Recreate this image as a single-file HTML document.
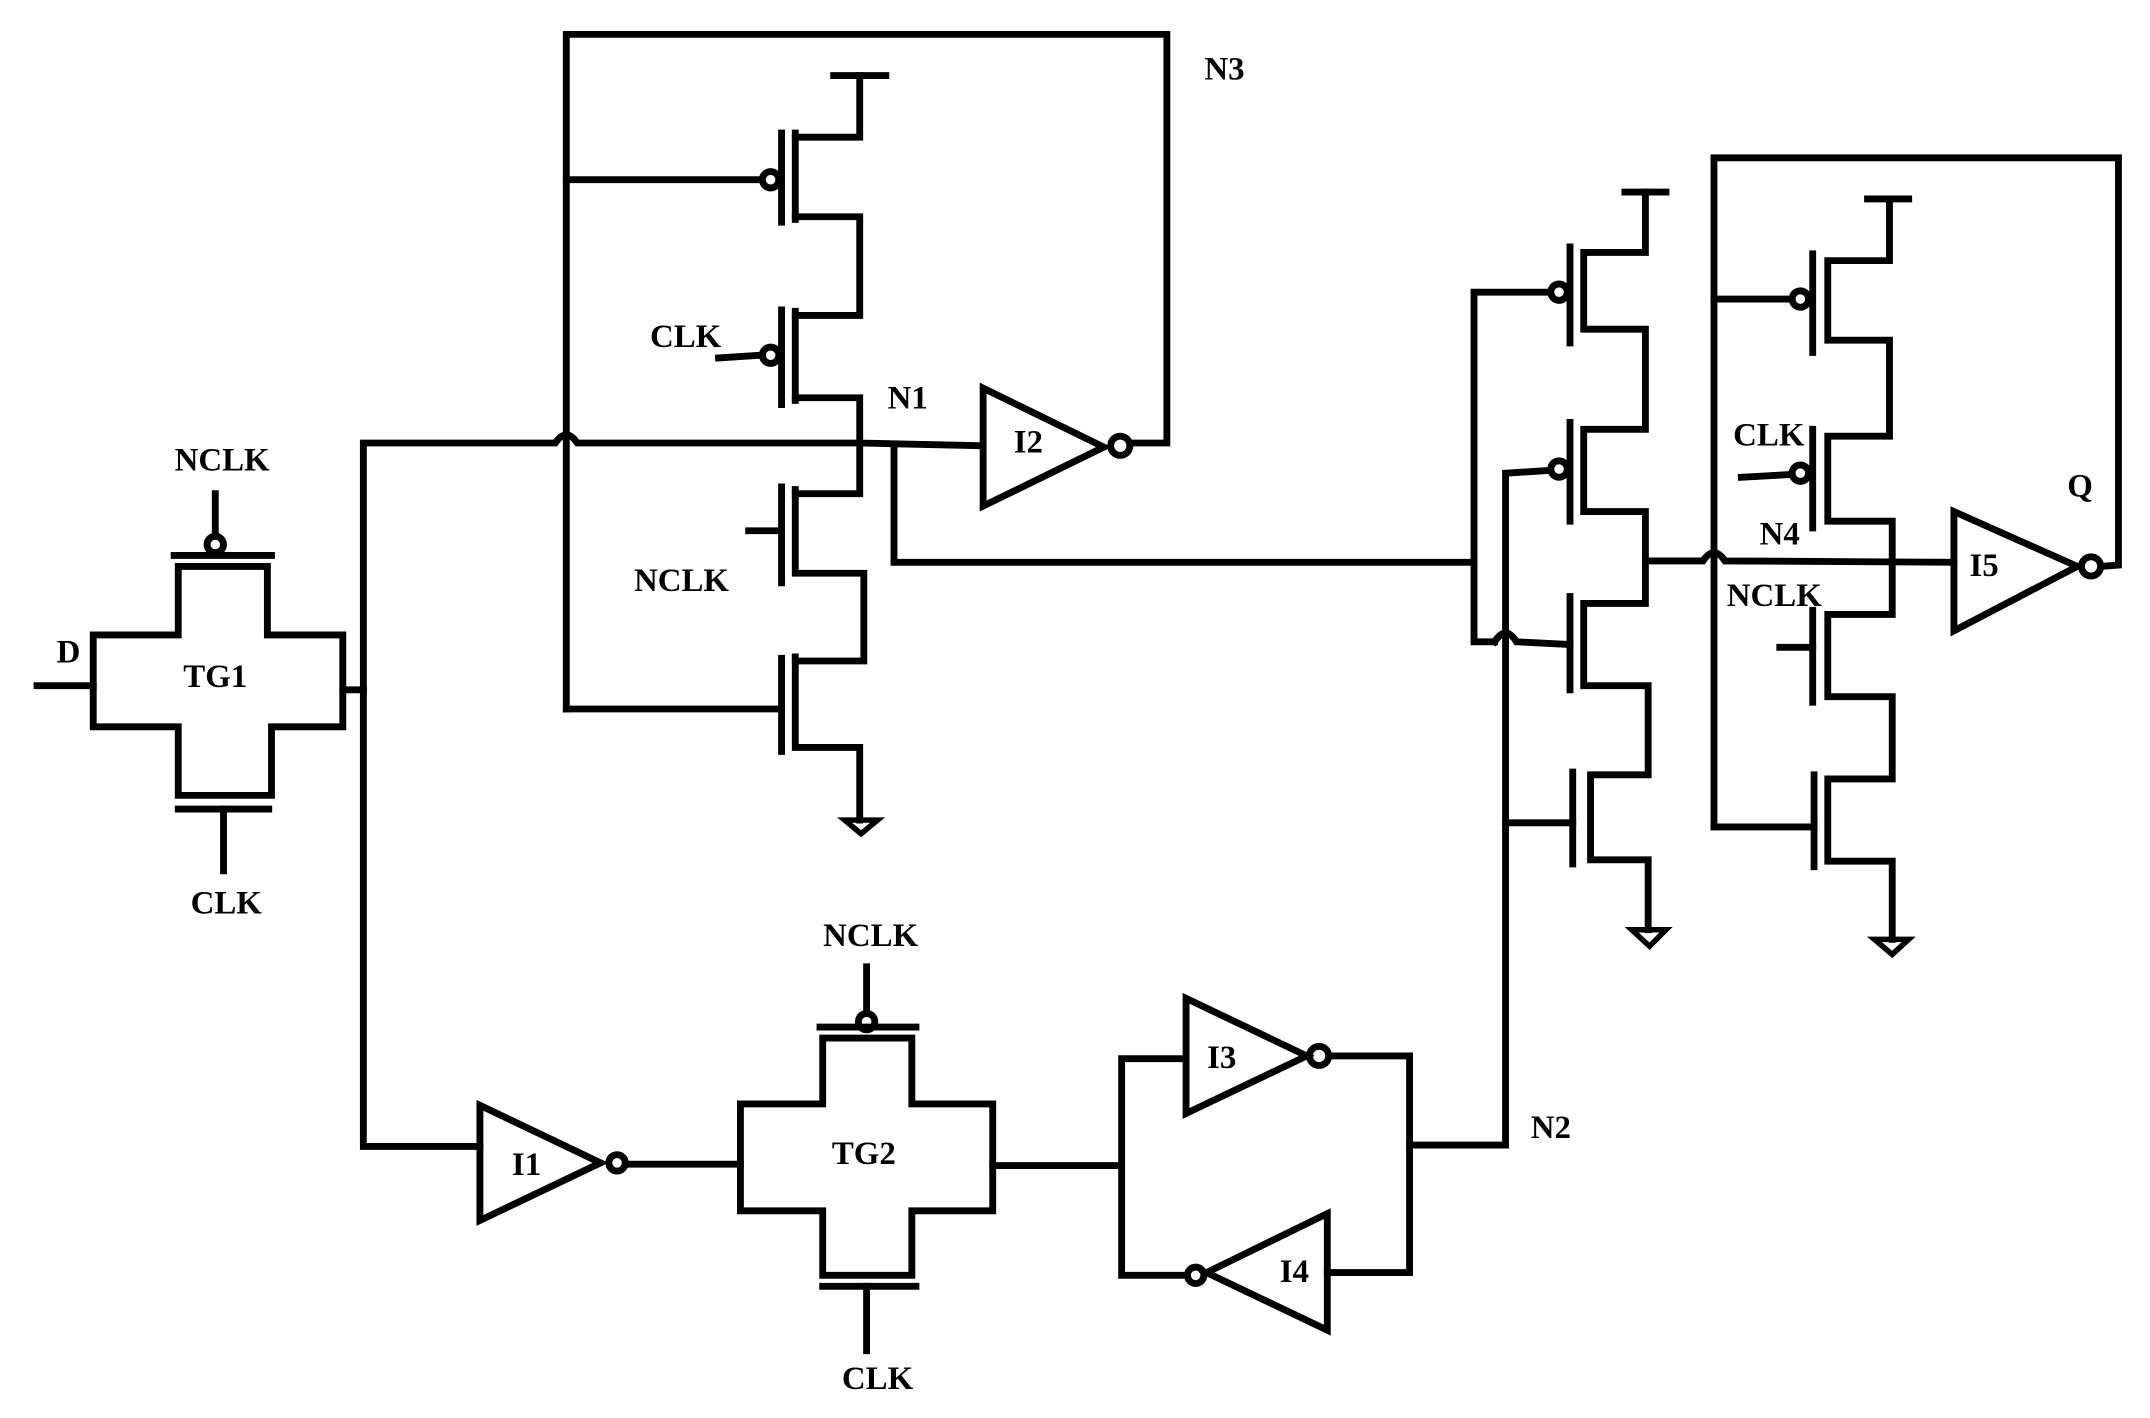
<!DOCTYPE html>
<html><head><meta charset="utf-8"><style>
html,body{margin:0;padding:0;background:#fff;}
svg{display:block;}
text{font-family:"Liberation Serif",serif;font-weight:bold;font-size:24px;fill:#000;text-anchor:middle;}
</style></head><body>
<svg width="2150" height="1418" viewBox="0 0 1568 1034" xmlns="http://www.w3.org/2000/svg">
<g fill="none" stroke="#000" stroke-width="5" stroke-linejoin="miter" stroke-linecap="square">
<!-- N3 feedback box -->
<polyline points="413,517 413,25 851,25 851,323 824,323"/>
<!-- left stack -->
<polyline points="608,55 646,55"/>
<polyline points="627,55 627,100 580,100"/>
<polyline points="580,97 580,160"/>
<polyline points="580,158 627,158 627,230 580,230"/>
<line x1="570" y1="97" x2="570" y2="162"/>
<circle cx="562" cy="131" r="6"/>
<line x1="413" y1="131" x2="555" y2="131"/>
<polyline points="580,227 580,292"/>
<line x1="570" y1="226" x2="570" y2="295"/>
<circle cx="562" cy="259" r="6"/>
<line x1="524" y1="261" x2="555" y2="259"/>
<polyline points="580,290 627,290 627,360 580,360"/>
<polyline points="580,357 580,418 630,418 630,482 580,482"/>
<line x1="570" y1="355" x2="570" y2="425"/>
<line x1="546" y1="387" x2="570" y2="387"/>
<polyline points="580,479 580,545 627,545 627,598"/>
<line x1="570" y1="480" x2="570" y2="548"/>
<line x1="413" y1="517" x2="570" y2="517"/>
<polygon points="616,598 640,598 628,608" stroke-width="4"/>
<!-- main node wire with hop at 413 -->
<path d="M265,503 L265,323 L405,323 Q413,311 421,323 L627,323 L716,325"/>
<polyline points="652,325 652,410 1075,410"/>
<!-- I2 -->
<polygon points="717,283 717,369 805,326"/>
<circle cx="817" cy="325" r="7"/>
<!-- TG1 -->
<polyline points="68,463 130,463 130,413 195,413 195,463 250,463 250,530 198,530 198,580 130,580 130,530 68,530 68,463"/>
<line x1="127" y1="405" x2="198" y2="405"/>
<circle cx="157" cy="397" r="6"/>
<line x1="157" y1="360" x2="157" y2="391"/>
<line x1="130" y1="590" x2="196" y2="590"/>
<line x1="163" y1="590" x2="163" y2="635"/>
<line x1="27" y1="500" x2="68" y2="500"/>
<line x1="250" y1="503" x2="265" y2="503"/>
<polyline points="265,503 265,836 350,836"/>
<!-- I1 -->
<polygon points="350,806 350,890 438,848"/>
<circle cx="450" cy="848" r="6"/>
<line x1="457" y1="849" x2="540" y2="849"/>
<!-- TG2 -->
<polyline points="540,805 600,805 600,757 665,757 665,805 724,805 724,883 665,883 665,930 600,930 600,883 540,883 540,805"/>
<line x1="598" y1="749" x2="668" y2="749"/>
<circle cx="632" cy="745" r="6"/>
<line x1="632" y1="705" x2="632" y2="739"/>
<line x1="600" y1="938" x2="668" y2="938"/>
<line x1="632" y1="938" x2="632" y2="985"/>
<line x1="724" y1="850" x2="818" y2="850"/>
<!-- latch I3/I4 -->
<polyline points="865,772 818,772 818,930 865,930"/>
<polygon points="865,728 865,812 953,770"/>
<circle cx="962" cy="770" r="7"/>
<polyline points="970,770 1028,770 1028,928 968,928"/>
<polygon points="968,885 968,970 880,928"/>
<circle cx="872" cy="930" r="6"/>
<polyline points="1028,835 1098,835 1098,345 1130,343"/>
<!-- middle block -->
<line x1="1185" y1="140" x2="1215" y2="140"/>
<polyline points="1200,140 1200,184 1155,184 1155,240 1200,240 1200,313 1155,313 1155,373 1200,373 1200,440 1155,440 1155,500 1202,500 1202,565 1160,565 1160,627 1202,627 1202,678"/>
<polygon points="1190,678 1215,678 1203,690" stroke-width="4"/>
<line x1="1145" y1="180" x2="1145" y2="250"/>
<circle cx="1137" cy="213" r="6"/>
<polyline points="1130,213 1075,213 1075,468 1090,468"/>
<path d="M1090,468 Q1098,455 1106,468 L1145,470"/>
<line x1="1145" y1="308" x2="1145" y2="380"/>
<circle cx="1137" cy="342" r="6"/>
<line x1="1145" y1="435" x2="1145" y2="503"/>
<line x1="1147" y1="563" x2="1147" y2="630"/>
<line x1="1098" y1="600" x2="1147" y2="600"/>
<path d="M1200,409 L1242,409 Q1250,397 1258,409 L1425,410"/>
<!-- right block -->
<polyline points="1250,603 1250,115 1545,115 1545,412 1532,413"/>
<line x1="1362" y1="145" x2="1392" y2="145"/>
<polyline points="1378,145 1378,190 1333,190 1333,248 1378,248 1378,318 1333,318 1333,380 1380,380 1380,448 1333,448 1333,508 1380,508 1380,568 1333,568 1333,628 1380,628 1380,685"/>
<polygon points="1367,685 1392,685 1380,696" stroke-width="4"/>
<line x1="1322" y1="185" x2="1322" y2="257"/>
<circle cx="1313" cy="218" r="6"/>
<line x1="1250" y1="218" x2="1306" y2="218"/>
<line x1="1322" y1="313" x2="1322" y2="385"/>
<circle cx="1313" cy="345" r="6"/>
<line x1="1270" y1="348" x2="1306" y2="346"/>
<line x1="1322" y1="445" x2="1322" y2="512"/>
<line x1="1298" y1="472" x2="1322" y2="472"/>
<line x1="1323" y1="565" x2="1323" y2="632"/>
<line x1="1250" y1="603" x2="1323" y2="603"/>
<polygon points="1425,373 1425,460 1515,413"/>
<circle cx="1525" cy="413" r="7"/>
</g>
<text x="893" y="58">N3</text>
<text x="500" y="253">CLK</text>
<text x="662" y="298">N1</text>
<text x="750" y="330">I2</text>
<text x="497" y="431">NCLK</text>
<text x="162" y="343">NCLK</text>
<text x="50" y="483">D</text>
<text x="157" y="501">TG1</text>
<text x="165" y="666">CLK</text>
<text x="384" y="857">I1</text>
<text x="635" y="690">NCLK</text>
<text x="630" y="849">TG2</text>
<text x="640" y="1013">CLK</text>
<text x="891" y="779">I3</text>
<text x="944" y="935">I4</text>
<text x="1131" y="830">N2</text>
<text x="1290" y="325">CLK</text>
<text x="1298" y="397">N4</text>
<text x="1294" y="442">NCLK</text>
<text x="1447" y="420">I5</text>
<text x="1517" y="362">Q</text>
</svg>
</body></html>
